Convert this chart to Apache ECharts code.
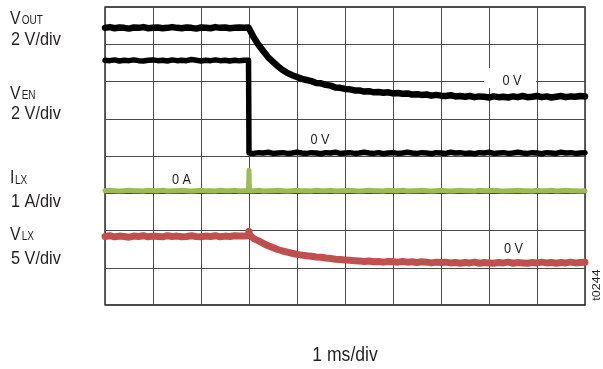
<!DOCTYPE html>
<html>
<head>
<meta charset="utf-8">
<style>
  html, body { margin: 0; padding: 0; background: #fff; }
  #chart { width: 603px; height: 369px; }
</style>
<script src="https://cdn.jsdelivr.net/npm/echarts/dist/echarts.min.js"></script>
</head>
<body>
<div id="chart"></div>
<script>
// Horizontal position in divisions (1 ms/div); extra samples around the enable edge at 3 div
const timeDiv = [
  0.0, 0.1, 0.2, 0.3, 0.4, 0.5, 0.6, 0.7, 0.8, 0.9,
  1.0, 1.1, 1.2, 1.3, 1.4, 1.5, 1.6, 1.7, 1.8, 1.9,
  2.0, 2.1, 2.2, 2.3, 2.4, 2.5, 2.6, 2.7, 2.8, 2.9,
  2.99, 3.0, 3.01,
  3.1, 3.2, 3.3, 3.4, 3.5, 3.6, 3.7, 3.8, 3.9, 4.0,
  4.1, 4.2, 4.3, 4.4, 4.5, 4.6, 4.7, 4.8, 4.9, 5.0,
  5.1, 5.2, 5.3, 5.4, 5.5, 5.6, 5.7, 5.8, 5.9, 6.0,
  6.1, 6.2, 6.3, 6.4, 6.5, 6.6, 6.7, 6.8, 6.9, 7.0,
  7.1, 7.2, 7.3, 7.4, 7.5, 7.6, 7.7, 7.8, 7.9, 8.0,
  8.1, 8.2, 8.3, 8.4, 8.5, 8.6, 8.7, 8.8, 8.9, 9.0,
  9.1, 9.2, 9.3, 9.4, 9.5, 9.6, 9.7, 9.8, 9.9, 10.0
];

// Trace positions in screen divisions (0 = bottom graticule line, 8 = top)
const vout = [
  7.44, 7.46, 7.43, 7.45, 7.44, 7.42, 7.45, 7.44, 7.46, 7.43,
  7.44, 7.45, 7.43, 7.44, 7.46, 7.44, 7.43, 7.45, 7.44, 7.42,
  7.45, 7.44, 7.43, 7.46, 7.44, 7.45, 7.43, 7.44, 7.45, 7.44,
  7.45, 7.44, 7.41,
  7.18, 6.98, 6.81, 6.65, 6.53, 6.41, 6.31, 6.23, 6.17, 6.12,
  6.07, 6.04, 6.01, 5.96, 5.95, 5.91, 5.89, 5.84, 5.83, 5.80,
  5.79, 5.76, 5.76, 5.73, 5.74, 5.71, 5.72, 5.70, 5.71, 5.68,
  5.69, 5.67, 5.68, 5.65, 5.66, 5.64, 5.65, 5.62, 5.64, 5.62,
  5.61, 5.63, 5.60, 5.61, 5.59, 5.61, 5.58, 5.60, 5.59, 5.57,
  5.60, 5.58, 5.59, 5.57, 5.60, 5.58, 5.61, 5.58, 5.59, 5.61,
  5.58, 5.60, 5.57, 5.59, 5.61, 5.58, 5.60, 5.59, 5.61, 5.60
];

const ven = [
  6.57, 6.56, 6.58, 6.55, 6.57, 6.56, 6.58, 6.56, 6.55, 6.57,
  6.58, 6.56, 6.57, 6.55, 6.58, 6.56, 6.57, 6.56, 6.59, 6.57,
  6.55, 6.57, 6.56, 6.58, 6.56, 6.57, 6.55, 6.57, 6.56, 6.57,
  6.57, 4.08, 4.09,
  4.07, 4.09, 4.08, 4.10, 4.07, 4.08, 4.09, 4.07, 4.08, 4.10,
  4.08, 4.07, 4.09, 4.08, 4.06, 4.09, 4.08, 4.10, 4.07, 4.08,
  4.09, 4.07, 4.08, 4.10, 4.08, 4.07, 4.09, 4.06, 4.08, 4.09,
  4.07, 4.08, 4.10, 4.08, 4.07, 4.09, 4.08, 4.06, 4.09, 4.08,
  4.07, 4.10, 4.08, 4.09, 4.07, 4.08, 4.06, 4.09, 4.08, 4.10,
  4.07, 4.08, 4.09, 4.07, 4.08, 4.10, 4.08, 4.07, 4.09, 4.08,
  4.06, 4.09, 4.08, 4.07, 4.10, 4.08, 4.09, 4.07, 4.08, 4.09
];

const ilx = [
  3.07, 3.08, 3.07, 3.06, 3.07, 3.08, 3.07, 3.07, 3.06, 3.08,
  3.07, 3.07, 3.08, 3.06, 3.07, 3.07, 3.08, 3.07, 3.06, 3.07,
  3.08, 3.07, 3.07, 3.06, 3.08, 3.07, 3.07, 3.08, 3.06, 3.07,
  3.07, 3.62, 3.07,
  3.07, 3.08, 3.06, 3.07, 3.07, 3.08, 3.07, 3.06, 3.07, 3.08,
  3.07, 3.07, 3.06, 3.08, 3.07, 3.07, 3.08, 3.06, 3.07, 3.07,
  3.08, 3.07, 3.06, 3.07, 3.08, 3.07, 3.07, 3.06, 3.08, 3.07,
  3.07, 3.08, 3.06, 3.07, 3.07, 3.08, 3.07, 3.06, 3.07, 3.08,
  3.07, 3.06, 3.07, 3.08, 3.07, 3.07, 3.06, 3.08, 3.07, 3.07,
  3.08, 3.07, 3.06, 3.07, 3.07, 3.08, 3.07, 3.07, 3.06, 3.08,
  3.07, 3.07, 3.08, 3.06, 3.07, 3.08, 3.07, 3.07, 3.06, 3.07
];

const vlx = [
  1.84, 1.86, 1.83, 1.85, 1.84, 1.82, 1.85, 1.84, 1.86, 1.83,
  1.85, 1.84, 1.83, 1.86, 1.84, 1.85, 1.83, 1.84, 1.86, 1.84,
  1.83, 1.85, 1.84, 1.86, 1.83, 1.85, 1.84, 1.86, 1.85, 1.85,
  1.86, 1.98, 1.88,
  1.78, 1.72, 1.65, 1.59, 1.54, 1.49, 1.45, 1.42, 1.39, 1.36,
  1.34, 1.32, 1.31, 1.29, 1.28, 1.26, 1.25, 1.23, 1.22, 1.21,
  1.20, 1.19, 1.18, 1.17, 1.18, 1.16, 1.17, 1.15, 1.17, 1.16,
  1.15, 1.17, 1.15, 1.16, 1.14, 1.16, 1.15, 1.13, 1.15, 1.14,
  1.15, 1.13, 1.14, 1.12, 1.14, 1.13, 1.15, 1.12, 1.14, 1.13,
  1.12, 1.14, 1.13, 1.15, 1.12, 1.14, 1.13, 1.12, 1.14, 1.13,
  1.15, 1.13, 1.14, 1.12, 1.14, 1.13, 1.15, 1.13, 1.14, 1.15
];

const FONT = '"Liberation Sans", Arial, Helvetica, sans-serif';
const TEXT = '#231f20';
const NARROW = 0.88; // horizontal squeeze for a condensed look

const pairs = (ys) => timeDiv.map((t, i) => [t, ys[i]]);

function trace(name, ys, color, width) {
  return {
    name: name,
    type: 'line',
    data: pairs(ys),
    showSymbol: false,
    symbol: 'none',
    silent: true,
    lineStyle: { color: color, width: width, cap: 'round', join: 'round' }
  };
}

function label(x, y, text, size, align, extra) {
  return Object.assign({
    type: 'text', x: x, y: y, scaleX: NARROW,
    style: { text: text, font: size + 'px ' + FONT, fill: TEXT, align: align || 'left', verticalAlign: 'middle' }
  }, extra || {});
}

// Channel name: large initial letter followed by small capitals sitting on the same baseline
function channelName(x, y, head, tail) {
  const gap = head === 'I' ? 5 : 11.7;
  return [
    label(x, y, head, 18),
    label(x + gap, y + 1.9, tail, 12.5, 'left', { scaleX: 0.8 })
  ];
}

// Ground reference marker text
function zeroMark(x, y, text, extra) {
  return label(x, y, text, 15.5, 'center', Object.assign({ scaleX: 0.82 }, extra || {}));
}

const chart = echarts.init(document.getElementById('chart'), null, { renderer: 'canvas' });

chart.setOption({
  animation: false,
  backgroundColor: '#fff',
  grid: {
    left: 105, top: 7, width: 480, height: 298,
    show: true, borderColor: '#111', borderWidth: 1.3, backgroundColor: 'transparent'
  },
  xAxis: {
    type: 'value', min: 0, max: 10, interval: 1,
    axisLine: { show: false }, axisTick: { show: false }, axisLabel: { show: false },
    splitLine: { show: true, lineStyle: { color: '#4a4a4a', width: 1 } }
  },
  yAxis: {
    type: 'value', min: 0, max: 8, interval: 1,
    axisLine: { show: false }, axisTick: { show: false }, axisLabel: { show: false },
    splitLine: { show: true, lineStyle: { color: '#4a4a4a', width: 1 } }
  },
  series: [
    trace('VOUT', vout, '#000', 6.5),
    trace('VEN', ven, '#000', 5.5),
    trace('ILX', ilx, '#9bbb59', 5),
    trace('VLX', vlx, '#c0504d', 7)
  ],
  graphic: [
    ...channelName(10, 19, 'V', 'OUT'),
    label(11, 40, '2 V/div', 18.5),
    ...channelName(10, 94, 'V', 'EN'),
    label(11, 113.5, '2 V/div', 18.5),
    ...channelName(10, 178.5, 'I', 'LX'),
    label(11, 201.5, '1 A/div', 18.5),
    ...channelName(10, 235, 'V', 'LX'),
    label(11, 258.5, '5 V/div', 18.5),
    { type: 'rect', shape: { x: 484, y: 68, width: 52, height: 20 }, style: { fill: '#fff' }, z: 5 },
    zeroMark(512, 81, '0 V', { z: 6 }),
    zeroMark(320, 139.5, '0 V'),
    zeroMark(181.5, 180, '0 A'),
    zeroMark(513.5, 248.5, '0 V'),
    label(345, 355.5, '1 ms/div', 20, 'center'),
    label(597, 285, 't0244', 12.5, 'center', { rotation: Math.PI / 2, scaleX: 1, scaleY: NARROW })
  ]
});
</script>
</body>
</html>
